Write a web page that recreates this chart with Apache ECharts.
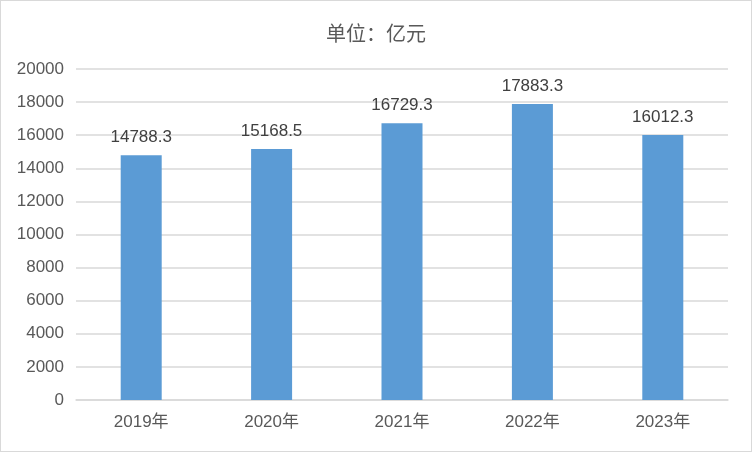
<!DOCTYPE html>
<html><head><meta charset="utf-8">
<script src="https://cdn.jsdelivr.net/npm/echarts@6/dist/echarts.min.js"></script>
<style>html,body{margin:0;padding:0;background:#fff}#c{width:752px;height:452px;box-sizing:border-box;border:1px solid #d9d9d9}</style>
</head><body><div id="c"></div>
<script>
const categories = ['2019年','2020年','2021年','2022年','2023年'];
const values = [14788.3, 15168.5, 16729.3, 17883.3, 16012.3];
const yTicks = {min:0, max:20000, interval:2000};
const titleText = '单位：亿元';
const chart = echarts.init(document.getElementById('c'));
const ff = '"Liberation Sans","Noto Sans CJK SC",sans-serif';
chart.setOption({
  animation:false,
  title:{text:titleText,left:'center',top:17,textStyle:{fontSize:20,fontWeight:'normal',color:'#595959',fontFamily:'"Noto Sans CJK SC",sans-serif'}},
  grid:{left:75,right:23,top:68,bottom:51},
  xAxis:{type:'category',data:categories,axisTick:{show:false},axisLine:{lineStyle:{color:'#d9d9d9',width:1.5}},
    axisLabel:{fontSize:17,color:'#595959',margin:14,fontFamily:ff}},
  yAxis:{type:'value',min:yTicks.min,max:yTicks.max,interval:yTicks.interval,axisLine:{show:false},axisTick:{show:false},
    splitLine:{lineStyle:{color:'#d9d9d9',width:1.5}},axisLabel:{fontSize:17,color:'#595959',margin:12,fontFamily:ff,formatter:v=>String(v)}},
  series:[{type:'bar',data:values,barWidth:41,itemStyle:{color:'#5b9bd5'},
    label:{show:true,position:'top',distance:9,fontSize:17,color:'#404040',fontFamily:ff,formatter:p=>p.value.toFixed(1)}}]
});
</script></body></html>
